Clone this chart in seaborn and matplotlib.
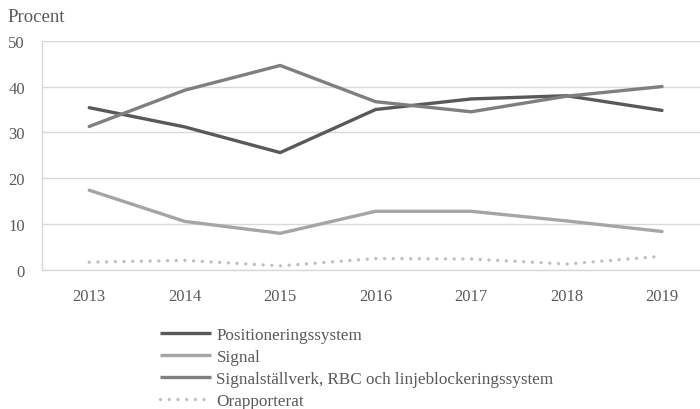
import matplotlib
matplotlib.use("Agg")
import matplotlib.pyplot as plt
from matplotlib.lines import Line2D
import seaborn as sns
import pandas as pd

years = ["2013", "2014", "2015", "2016", "2017", "2018", "2019"]
series_names = [
    "Positioneringssystem",
    "Signal",
    "Signalställverk, RBC och linjeblockeringssystem",
    "Orapporterat",
]
positionering = [35.4, 31.2, 25.6, 35.0, 37.3, 38.0, 34.8]
signal = [17.4, 10.6, 8.0, 12.8, 12.8, 10.7, 8.4]
signalstallverk = [31.3, 39.2, 44.6, 36.7, 34.5, 37.9, 40.0]
orapporterat = [1.7, 2.1, 0.9, 2.5, 2.4, 1.3, 3.0]
y_ticks = [0, 10, 20, 30, 40, 50]

values = [positionering, signal, signalstallverk, orapporterat]
rows = []
for name, vals in zip(series_names, values):
    for i, (yr, v) in enumerate(zip(years, vals)):
        rows.append({"pos": i, "year": yr, "value": v, "serie": name})
df = pd.DataFrame(rows)

sns.set_theme(style="white")
plt.rcParams["font.family"] = ["Liberation Serif", "DejaVu Serif"]
text_color = "#595959"
lw = 2.4
dot_pattern = (0.01, 2.6)

palette = {
    series_names[0]: "#595959",
    series_names[1]: "#a5a5a5",
    series_names[2]: "#7f7f7f",
    series_names[3]: "#bfbfbf",
}
dashes = {
    series_names[0]: "",
    series_names[1]: "",
    series_names[2]: "",
    series_names[3]: dot_pattern,
}

fig = plt.figure(figsize=(7, 4.1), dpi=100)
ax = fig.add_axes([41.5 / 700, 1 - 271 / 410, (709.75 - 41.5) / 700, (271 - 41.7) / 410])

sns.lineplot(data=df, x="pos", y="value", hue="serie", style="serie",
             palette=palette, dashes=dashes, hue_order=series_names,
             style_order=series_names, linewidth=lw, ax=ax, legend=False)

for line in ax.get_lines():
    line.set_solid_capstyle("round")
    line.set_dash_capstyle("round")

ax.set_xlim(-0.5, len(years) - 0.5)
ax.set_ylim(0, 50)
ax.set_xticks(range(len(years)))
ax.set_xticklabels(years)
ax.set_yticks(y_ticks)
ax.set_xlabel("")
ax.set_ylabel("")
ax.yaxis.grid(True, color="#d9d9d9", linewidth=1)
ax.set_axisbelow(True)
for side in ["top", "right"]:
    ax.spines[side].set_visible(False)
for side in ["left", "bottom"]:
    ax.spines[side].set_color("#d9d9d9")
    ax.spines[side].set_linewidth(1)
ax.tick_params(axis="both", length=0, labelsize=12, colors=text_color)
ax.tick_params(axis="x", pad=13)
ax.tick_params(axis="y", pad=12)

fig.text(7 / 700, 1 - 17 / 410, "Procent", fontsize=13.5, color=text_color,
         va="center", ha="left")

handles = []
for name in series_names:
    if name == series_names[3]:
        h = Line2D([], [], color=palette[name], linewidth=lw,
                   linestyle=(0, dot_pattern), dash_capstyle="round")
    else:
        h = Line2D([], [], color=palette[name], linewidth=lw, solid_capstyle="butt")
    handles.append(h)
leg = fig.legend(handles, series_names, loc="upper left",
                 bbox_to_anchor=(160 / 700, 1 - 327.5 / 410), frameon=False,
                 fontsize=12.3, handlelength=3.0, handletextpad=0.3,
                 labelspacing=0.36, borderaxespad=0, borderpad=0)
for t in leg.get_texts():
    t.set_color(text_color)

fig.savefig("out.png", dpi=100)
